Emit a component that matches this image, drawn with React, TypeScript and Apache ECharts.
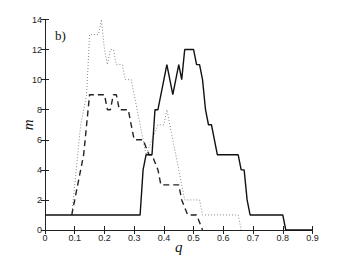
import React, { useEffect, useRef } from "react";
import * as echarts from "echarts";

const qSolid = [0, 0.32, 0.33, 0.34, 0.36, 0.37, 0.38, 0.41, 0.43, 0.45, 0.46, 0.47, 0.5, 0.51, 0.52, 0.53, 0.54, 0.55, 0.56, 0.58, 0.65, 0.66, 0.67, 0.68, 0.69, 0.8, 0.81, 0.9];
const mSolid = [1, 1, 4, 5, 5, 8, 8, 11, 9, 11, 10, 12, 12, 11, 11, 10, 8, 7, 7, 5, 5, 4, 4, 2, 1, 1, 0, 0];

const qDash = [0.09, 0.13, 0.15, 0.2, 0.21, 0.22, 0.23, 0.24, 0.25, 0.28, 0.3, 0.33, 0.35, 0.36, 0.38, 0.39, 0.45, 0.46, 0.48, 0.51, 0.53];
const mDash = [1, 5, 9, 9, 8, 8, 9, 9, 8, 8, 6, 6, 5, 5, 4, 3, 3, 2, 1, 1, 0];

const qDot = [0.09, 0.1, 0.12, 0.14, 0.15, 0.17, 0.18, 0.19, 0.2, 0.21, 0.22, 0.23, 0.24, 0.26, 0.27, 0.29, 0.3, 0.32, 0.34, 0.36, 0.38, 0.4, 0.41, 0.42, 0.43, 0.44, 0.46, 0.47, 0.52, 0.53, 0.65, 0.66];
const mDot = [1, 3, 7, 9, 13, 13, 13, 14, 12, 11, 12, 12, 11, 11, 10, 10, 9, 7, 5, 6, 7, 7, 8, 7, 6, 5, 3, 2, 2, 1, 1, 0];

const xTicks = [0, 0.1, 0.2, 0.3, 0.4, 0.5, 0.6, 0.7, 0.8, 0.9];

const zip = (a: number[], b: number[]) => a.map((v, i) => [v, b[i]]);

export default function App() {
  const ref = useRef<HTMLDivElement>(null);
  useEffect(() => {
    const chart = echarts.init(ref.current!, null, { renderer: "svg" });
    const axisLine = { show: true, lineStyle: { color: "#222", width: 1 } };
    const tick = { show: true, inside: true, length: 4, lineStyle: { color: "#222" } };
    const label = { color: "#222", fontSize: 9, fontFamily: "Liberation Sans, Arial, sans-serif" };
    chart.setOption({
      animation: false,
      grid: { left: 45, right: 32.5, top: 19.5, bottom: 29, containLabel: false, outerBoundsMode: "none" },
      xAxis: [
        {
          type: "value", min: 0, max: 0.9, interval: 0.1,
          axisLine, axisTick: tick, splitLine: { show: false },
          axisLabel: { ...label, margin: 3, formatter: (v: number) => {
            const t = xTicks.find((x) => Math.abs(x - v) < 1e-6);
            return t === undefined ? "" : String(t);
          } },
          name: "q", nameLocation: "middle", nameGap: 9, nameMoveOverlap: false,
          nameTextStyle: { fontFamily: "Liberation Serif, serif", fontStyle: "italic", fontSize: 15, color: "#111", verticalAlign: "top" },
        },
        {
          type: "value", position: "top", min: 0, max: 0.9, interval: 0.1,
          axisLine, axisTick: tick, axisLabel: { show: false }, splitLine: { show: false },
        },
      ],
      yAxis: [
        {
          type: "value", min: 0, max: 14, interval: 2,
          axisLine, axisTick: tick, splitLine: { show: false },
          axisLabel: { ...label, margin: 3 },
          name: "m", nameLocation: "middle", nameGap: 10, nameMoveOverlap: false,
          nameTextStyle: { fontFamily: "Liberation Serif, serif", fontStyle: "italic", fontSize: 15, color: "#111" },
        },
        {
          type: "value", position: "right", min: 0, max: 14, interval: 2,
          axisLine, axisTick: tick, axisLabel: { show: false }, splitLine: { show: false },
        },
      ],
      graphic: [
        { type: "text", left: 55, top: 29, style: { text: "b)", font: "13px 'Liberation Serif', serif", fill: "#111" } },
      ],
      series: [
        {
          type: "line", data: zip(qDot, mDot), symbol: "none", z: 2,
          lineStyle: { color: "#888", width: 1, type: [1, 2] },
        },
        {
          type: "line", data: zip(qDash, mDash), symbol: "none", z: 3,
          lineStyle: { color: "#222", width: 1.4, type: [6, 4] },
        },
        {
          type: "line", data: zip(qSolid, mSolid), symbol: "none", z: 4,
          lineStyle: { color: "#111", width: 1.4 },
        },
      ],
    });
    return () => chart.dispose();
  }, []);
  return <div ref={ref} style={{ width: 345, height: 259, position: "absolute", left: 0, top: 0 }} />;
}
